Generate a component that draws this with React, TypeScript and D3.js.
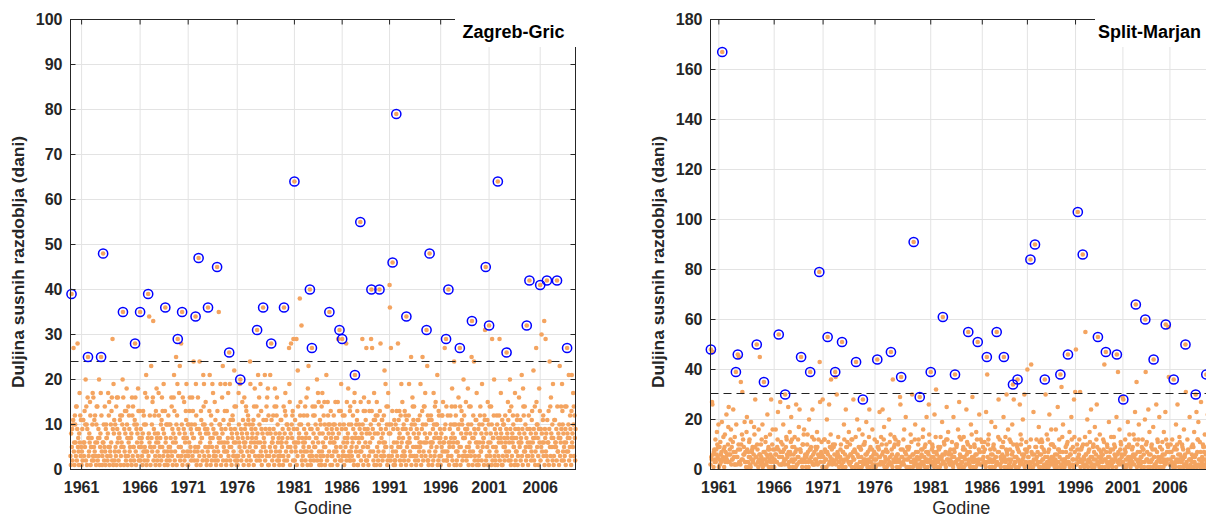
import { scaleLinear, max as d3max } from "d3";

const FIRST_YEAR = 1960;
const TICK_YEARS = [1961, 1966, 1971, 1976, 1981, 1986, 1991, 1996, 2001, 2006];

// susna razdoblja (dani), jedan string po godini, redom kojim su se javljala
const zagrebSpells = [
  "3 1 8 39 5 9 2 10 11 27 4 6 1 12 10 6 3 14 14 2 9 28 5 7 4 1 8 17 6 12 3 11 5",
  "1 4 9 2 11 11 6 3 6 13 5 10 20 2 14 10 1 9 16 25 7 3 4 8 6 15 12 1 5 5 7 2 10 17 3 16",
  "2 5 11 4 12 6 3 1 10 14 6 14 2 7 9 3 20 7 1 5 8 17 25 12 4",
  "1 3 6 48 6 10 2 5 14 4 1 9 10 7 7 3 2 8 17 5 12 15 1 5 4 3 10 6 13 16 2 29 9 1 19 8 11",
  "2 4 10 5 3 14 1 16 9 6 16 7 2 4 8 7 11 12 1 3 5 6 12 10 20 35 16 5 1 9 4 13 8 3 2 13 18 10 7",
  "1 3 14 6 12 9 4 5 7 2 7 8 1 16 12 3 14 5 5 2 10 11 28 16 4 1 9 10 6 8 3 18 13 2 5 7 13",
  "35 2 9 5 6 7 3 1 8 13 4 12 10 2 5 17 4 10 21 1 16",
  "4 2 7 39 3 8 34 6 12 5 1 5 23 7 10 4 15 16 33 2 9 5 12 8 3 1 13 6 18 7",
  "2 4 8 6 17 12 3 1 5 7 5 10 2 11 16 5 13 9 3 19 8 4 1 13 36 6 7 10 2 10 4",
  "1 3 12 5 10 5 2 5 10 7 4 16 14 3 9 1 6 8 16 21 13 2 4 7 6 25 10 1 12 19 29 3 9 5 17 8 23",
  "2 5 5 28 3 10 35 1 16 4 7 9 15 2 8 6 3 13 11 19 7 4 1 10",
  "1 3 10 6 13 16 4 5 9 2 10 8 16 3 13 7 24 7 2 4 10 5 34 19 12 1 9",
  "2 4 16 5 47 9 3 24 8 6 1 13 11 7 7 4 2 10 21 14 19 3 10 9 5 15 8 2",
  "1 2 9 4 36 8 5 3 13 21 6 7 1 12 10 2 5 19 7 17 9 3 4 8 15 2 11",
  "3 1 8 5 45 13 2 4 7 35 6 10 7 10 19 3 1 9 6 16 8 23 2 11 5 4 6 13 19 9 4",
  "1 2 13 4 6 7 17 3 10 26 5 19 2 11 9 5 1 8 7 12 11 3 4 6 22 14 9 2 6 14 3 1 8",
  "2 1 7 3 17 10 6 5 19 20 4 9 2 4 8 15 7 11 3 1 6 16 5 9 6 10 14 13 2 8 4 7 12 11",
  "1 3 10 5 24 19 2 6 9 4 7 8 10 4 11 1 14 6 18 3 9 5 7 14 2 31 8 6 21 12 3 16 10",
  "2 6 19 4 13 9 1 3 8 5 36 11 7 5 6 21 2 9 4 11 14 3 16 8 18 1 12",
  "1 3 9 5 21 8 4 28 11 6 2 6 7 12 9 3 1 14 18 5 8 4 14 12 16 2 10 6 3 7",
  "2 1 8 4 3 11 6 11 6 5 7 9 1 3 14 36 2 8 13 17 12 4 6 10 2 10 7 5 3 9 27 19 15 1 5 8 28 4 10 7 12 13 2 29 9 6",
  "64 2 11 5 4 6 29 1 9 3 22 14 6 7 8 10 38 12 15 4 10 32 2 7",
  "1 3 6 5 12 9 4 6 14 2 7 8 16 4 12 1 18 10 23 5 7 3 40 9 2",
  "1 4 9 27 3 14 6 12 8 2 5 12 14 5 10 7 3 7 20 2 9 17 6 15 4 1 8 11 3 10",
  "2 1 14 4 17 8 6 3 12 5 15 10 1 5 7 7 21 9 2 3 15 12 10 8 4 35 10 6 1 13 7 3 9",
  "1 3 8 6 10 12 4 6 10 2 15 7 5 4 9 7 1 15 29 3 8 13 31 10 2 5 13 19 2 9",
  "29 3 12 4 6 10 1 12 7 3 5 9 28 2 15 6 7 8 18 3 10 4 2 13 14",
  "2 4 10 5 3 7 6 12 9 2 1 15 17 21 8 7 4 10 5 11 13 1",
  "1 3 7 6 10 9 4 55 15 2 4 8 7 29 10 5 1 13 16 3 9 13 6 11 2 27 8",
  "2 5 9 5 1 15 3 13 8 6 4 10 29 40 13 27 7 9 4 2 11 17 1 8 11 3 12",
  "1 3 15 5 12 8 2 4 10 6 40 13 1 28 9 3 7 11 11 2 8 6 4 12 3 22 6 5 19 9 5 14 10 1 2 14 17 3 8 10",
  "41 36 8 2 27 10 5 3 13 46 4 9 1 6 11 2",
  "1 2 10 4 79 13 6 3 9 28 5 11 7 13 8 2 5 12 1 19 6 3 15 9 7 4 10",
  "2 4 13 3 12 9 1 34 11 5 6 8 6 2 12 19 7 6 4 3 9 25 1 10 3 16 14 5 11 8 14 3 10 2 5 7",
  "1 3 9 5 7 11 2 11 8 4 6 12 5 19 6 1 3 9 13 25 10 2 4 14 6 14 8 17 3 10 6 31 7 23 2 12",
  "2 1 11 4 48 8 6 3 12 5 11 6 1 6 9 2 17 10 7 3 14 4 15 8 10 5 10 21 1 7 2 13 12 3 6 9 7",
  "1 3 8 5 12 12 4 15 6 2 6 9 27 4 10 7 29 14 2",
  "2 4 12 3 40 6 1 5 9 6 12 10 7 3 14 18 2 8 5 6 10 24 1 7 14 10 12 4",
  "1 2 6 4 6 9 16 3 10 5 27 14 1 5 8 13 11 10 2 3 7 20 7 12 4 7 9 3 15 8",
  "2 5 9 3 18 10 1 5 14 6 4 8 14 3 10 25 33 7 1 4 12 7 24 9 2 3 8 11 6 11 17 1 6 5 2 9",
  "1 3 10 6 12 14 4 4 8 2 19 10 5 6 7 7 1 12 11 31 9 45 2 8 3 5 11 15 1 6 10",
  "32 4 14 3 6 8 14 1 10 29 2 7 5 7 12 20 3 9 1",
  "2 5 8 4 12 10 1 64 7 3 6 12 29 2 9 7 17 8 6 1 11",
  "1 3 10 5 10 7 2 5 12 6 4 9 26 3 8 7 15 11 2 4 6 13 20 9 2 1 14 7 3 8 6 12 10 5 5 7 1 17 9",
  "2 4 7 4 11 12 1 3 9 6 16 8 5 6 11 2 7 6 21 3 9 1 18 14 12 4 8 14 4 10 5 2 7 32 3 9 6",
  "1 3 12 5 42 9 6 5 8 2 4 11 13 3 6 7 22 9 2 7 14 1 4 8 27 15 10 5 10 7 3 1 9 18 6 13",
  "41 2 9 5 30 8 4 6 11 12 3 6 33 1 9 7",
  "29 4 8 3 42 11 2 6 6 13 1 9 24 5 14 3 16 8 7 5 10 2 19 7",
  "1 3 11 5 11 6 6 5 9 2 42 14 4 4 8 7 1 10 23 3 7 6 14 9 2 19 13 10 4 8",
  "2 5 6 3 14 9 1 6 14 4 27 8 7 4 10 21 2 7 5 12 9 3 1 13 21 6 8 5 17 10 14 3 12 7 2 9",
];

const splitSpells = [
  "2 48 5 4 27 26 47 6 1 7 8 3 4 12 3 8 6 15 10 5 9 18",
  "1 4 9 2 11 6 3 7 19 167 5 4 13 8 1 9 14 3 7 5 22 4 6 3 10 17 25 6",
  "3 8 6 12 16 2 9 4 4 11 24 7 5 2 13 2 7 39 18 5",
  "2 5 46 8 10 45 3 3 8 2 35 10 4 14 31 4 12 6 9 6 19 3 7 3 1 15 21 8",
  "1 3 7 5 11 12 5 2 1 19 4 7 8 9 3 4 6 17 14 9 28 2 5 5 50 10 8 3 1 16 4 6 45 6",
  "2 10 5 12 3 18 1 4 7 35 2 7 4 11 13 2 6 3 22 5 8 9 1 8 4 14 6 3 28 1 5 10 16 8 3 4",
  "1 4 8 6 16 6 3 3 9 12 23 8 54 5 2 5 27 7 11 2",
  "2 5 10 7 18 3 8 4 2 30 4 9 13 12 6 5 2 25 7 3 1 15 7 6 11 21 4 12 9",
  "1 3 6 4 9 13 4 7 1 26 8 2 2 5 12 5 17 3 24 8 8 7 45 3 4 1 10 10 3 14 16 4 5 6",
  "3 1 5 6 10 14 7 3 1 20 4 8 39 8 9 5 3 13 24 2 6 2 12 7",
  "2 4 9 4 8 3 15 9 2 6 12 5 79 43 27 3 5 7 11 6 1 28",
  "1 5 3 12 12 8 7 4 4 1 20 7 53 6 11 2 26 3 9 5 14 36 4 8",
  "2 4 10 3 9 3 6 10 39 37 2 4 30 5 7 6 13 3",
  "1 3 5 5 8 10 4 2 51 1 7 7 3 18 12 4 6 1 24 9 4 9 11 5 5 3 15 3",
  "2 10 6 6 3 12 1 12 5 7 28 4 4 8 1 7 13 43 2 2 20 6 1 5 9 16",
  "1 3 9 8 8 5 1 3 14 28 2 10 4 10 11 4 6 3 19 6 2 1 7 3 4 13 24 8 1 9 3 5 5 8 16 2 1 6 4 7 12",
  "2 4 1 4 6 11 44 9 2 9 8 5 23 5 2 3 13 3 10 6 24 7 2 12 17",
  "1 3 5 4 8 10 1 7 7 4 2 2 20 3 11 5 14 47 2 8 6 1 36 3 4 9 13 10 3 12 5 4",
  "3 1 6 6 10 11 4 3 1 29 26 8 37 5 2 5 8 3 12 2 16 4 7 7 21 6 1 4 9",
  "1 4 8 9 9 5 1 5 14 3 11 3 30 6 1 6 91 4 2 12 18 3 7 4",
  "2 5 1 7 10 12 4 2 29 2 1 5 8 6 3 8 13 16 2 3 5 9 1 10 4 7 21 4 3 1 7 6 26 14 11 3 4",
  "39 2 5 8 10 9 3 5 7 1 22 2 4 13 32 7 6 3",
  "1 3 9 4 8 5 1 9 13 2 4 5 19 6 61 3 3 11 10 6 2 7 1 12 25 4 12 4 15 3 6 7",
  "2 4 8 2 6 3 11 5 2 1 21 8 5 7 38 3 3 10 9 10 4 2 16 4 1 27 13 6 5 2 12 3",
  "1 3 5 8 9 13 1 5 8 4 2 2 24 6 11 7 10 55 3 4 2 7 1 9 18 4 14 5 29",
  "3 1 5 3 10 9 4 6 1 15 6 12 2 51 3 4 8 22 7 7 2 12 4 2 11",
  "2 4 9 5 7 3 11 8 2 1 23 3 45 38 5 10 12 14 3 4 1 8 4 6 19",
  "1 3 6 3 9 10 4 8 1 17 5 5 2 55 3 2 7 13 28 7 2 12",
  "2 5 1 4 9 3 6 9 11 21 45 5 1 4 13 3 8 30 7 6 1 16",
  "1 4 2 12 8 3 11 4 1 6 18 7 34 10 28 2 5 3",
  "3 1 5 5 10 9 36 8 4 1 7 3 26 2 14 10 3 12 6 4 20 2 5 6 30 1 8 3 3 11 7 8",
  "40 2 5 5 1 9 3 2 84 12 42 7 1 6",
  "3 1 23 4 6 2 90 9 4 9 12 5 2 7 3 3 17 1 11 6",
  "1 3 6 12 9 11 4 4 1 8 2 7 36 5 30 2 1 14 3 5 12 7 1 8 22 4 2 3 10 16 5 10",
  "2 10 5 4 3 9 1 6 4 16 2 3 6 1 25 8 3 8 12 5 7 38 1 2 33 4 13 7 18 3 1 4",
  "1 4 2 9 7 3 10 5 11 46 5 3 2 15 1 6 6 8 21 12 2 4 9 4 1 28 13 7 31",
  "2 48 4 2 10 8 103 5 3 6 12 8 31",
  "1 4 8 3 9 3 86 10 2 5 1 4 13 55 6 6 2 10 20 3 1 7 4 8 15 11 3 5 24",
  "2 1 5 2 9 10 4 7 1 17 2 4 6 12 26 9 3 53 2 5 8 1 14 3 4 7 5 6",
  "1 3 6 12 8 11 42 4 1 4 47 7 3 10 9 2 5 1 19 5 3 7 2 8 13",
  "2 4 1 3 8 3 13 10 6 9 5 4 1 21 46 6 3 39 7 3 2 16 4 8 11 10 6 5 2 29",
  "3 28 1 2 6 8 12 7 4 1 9 4 2 19 5 9 10 14 3 5",
  "1 4 2 3 8 3 9 6 14 5 2 12 23 6 66 4 35 1 10 7 3 12 18 2 4 7",
  "2 5 1 5 9 3 12 8 8 6 1 3 20 60 39 10 4 11 7 4 1 24 3 6 15",
  "1 3 6 3 9 10 4 8 1 17 44 5 5 2 8 2 1 26 3 7 12 11 5 4 1 21 4 9",
  "3 1 5 5 8 11 6 3 1 15 4 6 2 23 58 12 3 7 10 4 9 57 37 7 2",
  "2 4 10 2 7 3 12 5 1 5 36 8 2 9 1 3 18 4 8 10 26 3 6 4 1 13 11 6",
  "1 3 5 3 10 9 4 8 1 16 2 5 6 50 31 2 3 1 12 7 8 7 1 4 21 4",
  "2 4 1 9 6 3 10 5 9 1 15 3 5 2 30 6 23 1 7 12 12 19 2 4 4 11 1 7 27",
  "1 3 5 2 10 9 4 7 1 14 2 4 6 38 3 9 1 22 2 5 8 4 12 3 1 5 11 6 17",
];

const zagrebYTicks = [0, 10, 20, 30, 40, 50, 60, 70, 80, 90, 100];
const splitYTicks = [0, 20, 40, 60, 80, 100, 120, 140, 160, 180];

const zagrebThreshold = 24;
const splitThreshold = 30.4;

const TOP = 19.5;
const BOTTOM = 469.5;
const FONT = "'Liberation Sans', Arial, Helvetica, sans-serif";
const AXIS = "#262626";
const GRID = "#e3e3e3";
const DOT = "#F4A460";
const RING = "#0000FF";
const TICK_LEN = 5;

interface PanelProps {
  title: string;
  spells: string[];
  yTicks: number[];
  threshold: number;
  x0: number;
  x1: number;
  boxLeft: number;
  labelX: number;
}

function Panel({ title, spells, yTicks, threshold, x0, x1, boxLeft, labelX }: PanelProps) {
  const years = spells.map((s) => s.trim().split(/\s+/).map(Number));
  const starts: number[] = [];
  let n = 0;
  years.forEach((v) => {
    starts.push(n);
    n += v.length;
  });

  const points = years.flatMap((vals, k) => vals.map((v, j) => ({ i: starts[k] + j, v })));
  const maxima = years.map((vals, k) => {
    const m = d3max(vals) ?? 0;
    return { i: starts[k] + vals.indexOf(m), v: m };
  });

  const x = scaleLinear().domain([0, n - 1]).range([x0, x1]);
  const y = scaleLinear().domain([0, yTicks[yTicks.length - 1]]).range([BOTTOM, TOP]);
  const xTicks = TICK_YEARS.map((yr) => ({ yr, px: x(starts[yr - FIRST_YEAR]) }));

  return (
    <g>
      {xTicks.map((t) => (
        <line key={`gx${t.yr}`} x1={t.px} x2={t.px} y1={TOP} y2={BOTTOM} stroke={GRID} strokeWidth={1} />
      ))}
      {yTicks.map((t) => (
        <line key={`gy${t}`} x1={x0} x2={x1} y1={y(t)} y2={y(t)} stroke={GRID} strokeWidth={1} />
      ))}

      {points.map((p) => (
        <circle key={`p${p.i}`} cx={x(p.i)} cy={y(p.v)} r={2.3} fill={DOT} />
      ))}

      <line
        x1={x0}
        x2={x1}
        y1={y(threshold)}
        y2={y(threshold)}
        stroke="#222"
        strokeWidth={1}
        strokeDasharray="8,5"
      />

      {maxima.map((p) => (
        <circle key={`m${p.i}`} cx={x(p.i)} cy={y(p.v)} r={4.6} fill="none" stroke={RING} strokeWidth={1.5} />
      ))}

      {/* okvir i crtice */}
      <rect x={x0} y={TOP} width={x1 - x0} height={BOTTOM - TOP} fill="none" stroke={AXIS} strokeWidth={1} />
      {xTicks.map((t) => (
        <g key={`tx${t.yr}`}>
          <line x1={t.px} x2={t.px} y1={BOTTOM} y2={BOTTOM - TICK_LEN} stroke={AXIS} />
          <line x1={t.px} x2={t.px} y1={TOP} y2={TOP + TICK_LEN} stroke={AXIS} />
          <text x={t.px} y={493} textAnchor="middle" fontSize={16} fontWeight="bold" fill={AXIS}>
            {t.yr}
          </text>
        </g>
      ))}
      {yTicks.map((t) => (
        <g key={`ty${t}`}>
          <line x1={x0} x2={x0 + TICK_LEN} y1={y(t)} y2={y(t)} stroke={AXIS} />
          <line x1={x1} x2={x1 - TICK_LEN} y1={y(t)} y2={y(t)} stroke={AXIS} />
          <text
            x={x0 - 8}
            y={y(t)}
            dy="0.35em"
            textAnchor="end"
            fontSize={16}
            fontWeight="bold"
            fill={AXIS}
          >
            {t}
          </text>
        </g>
      ))}

      <rect x={boxLeft} y={TOP - 1} width={x1 - boxLeft + 2} height={47 - TOP + 1} fill="white" />
      <text x={x1 - 11} y={38} textAnchor="end" fontSize={18} fontWeight="bold" fill="#000">
        {title}
      </text>

      <text
        transform={`translate(${labelX},262) rotate(-90)`}
        textAnchor="middle"
        fontSize={17.4}
        fontWeight="bold"
        fill={AXIS}
      >
        Duljina susnih razdoblja (dani)
      </text>
      <text x={(x0 + x1) / 2} y={514} textAnchor="middle" fontSize={18} fill={AXIS}>
        Godine
      </text>
    </g>
  );
}

export default function App() {
  return (
    <svg
      width={1206}
      height={517}
      viewBox="0 0 1206 517"
      style={{ position: "absolute", left: 0, top: 0, background: "white", fontFamily: FONT }}
    >
      <Panel
        title="Zagreb-Gric"
        spells={zagrebSpells}
        yTicks={zagrebYTicks}
        threshold={zagrebThreshold}
        x0={70.5}
        x1={575.5}
        boxLeft={455}
        labelX={24}
      />
      <Panel
        title="Split-Marjan"
        spells={splitSpells}
        yTicks={splitYTicks}
        threshold={splitThreshold}
        x0={710.5}
        x1={1212}
        boxLeft={1095}
        labelX={664}
      />
    </svg>
  );
}
